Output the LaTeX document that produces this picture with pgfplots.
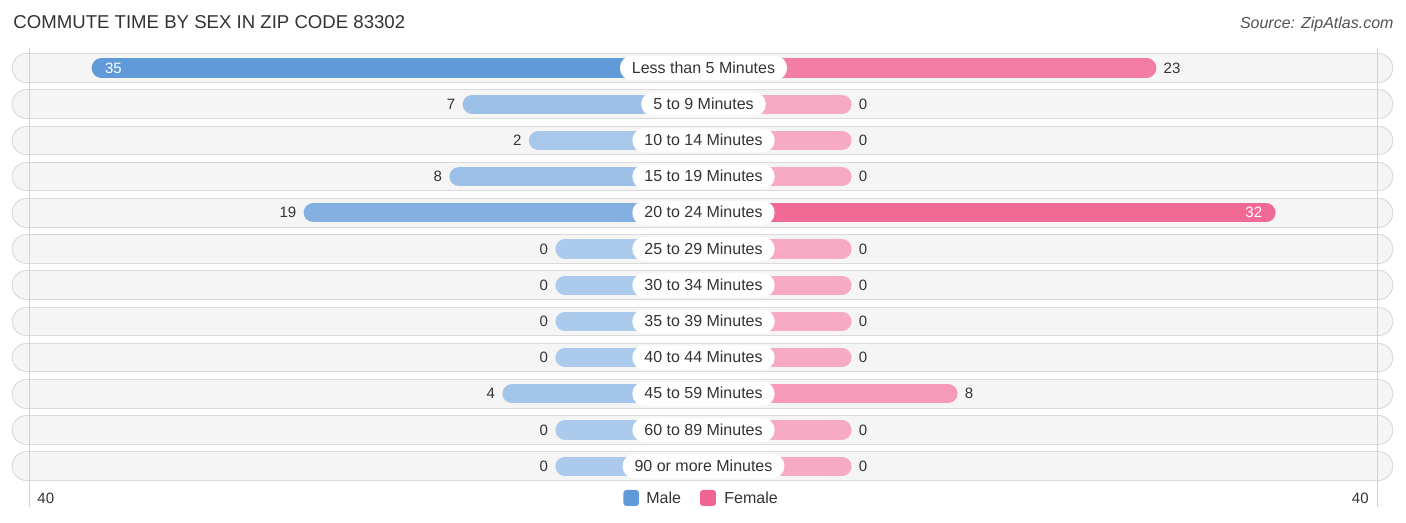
\documentclass[border=0pt]{standalone}
\usepackage{pgfplots}
\usepackage{pgfplotstable}
\pgfplotsset{compat=1.18}
\usepackage{fontspec}
\setmainfont{Liberation Sans}

\definecolor{malefull}{RGB}{96,154,216}
\definecolor{malelight}{RGB}{172,202,236}
\definecolor{femfull}{RGB}{240,100,146}
\definecolor{femlight}{RGB}{247,170,195}
\definecolor{rowfill}{RGB}{245,245,245}
\definecolor{rowedge}{RGB}{218,218,218}
\definecolor{gridc}{RGB}{210,210,210}
\definecolor{txt}{RGB}{51,51,51}

\newcommand\titlefont{\fontsize{9.3bp}{11bp}\selectfont}
\newcommand\lblfont{\fontsize{8bp}{9.6bp}\selectfont}
\newcommand\valfont{\fontsize{7.5bp}{9bp}\selectfont}

\pgfplotstableread[col sep=comma]{
label,male,female
Less than 5 Minutes,35,23
5 to 9 Minutes,7,0
10 to 14 Minutes,2,0
15 to 19 Minutes,8,0
20 to 24 Minutes,19,32
25 to 29 Minutes,0,0
30 to 34 Minutes,0,0
35 to 39 Minutes,0,0
40 to 44 Minutes,0,0
45 to 59 Minutes,4,8
60 to 89 Minutes,0,0
90 or more Minutes,0,0
}\commute

% 13.25 px per unit, every bar starts 148 px out from the centre
\def\off{11.17}
\def\cap{0.717}
\def\gap{0.53}
\def\ins{0.98}

\begin{document}
\begin{tikzpicture}
\begin{axis}[
    scale only axis,
    width=703bp, height=261.5bp,
    xmin=-53.094, xmax=53.019,
    ymin=-1.878, ymax=12.569,
    y dir=reverse,
    hide axis,
    clip=false,
]
\path (axis cs:-53.094,-1.878) rectangle (axis cs:53.019,12.569);

% row backgrounds
\pgfplotsinvokeforeach{0,...,11}{
    \addplot[rowedge, line width=14.8bp, line cap=round] coordinates {(-51.09,#1) (50.94,#1)};
    \addplot[rowfill, line width=13.8bp, line cap=round] coordinates {(-51.09,#1) (50.94,#1)};
}
\draw[gridc, line width=0.5bp] (axis cs:-50.83,-0.55) -- (axis cs:-50.83,12.13);
\draw[gridc, line width=0.5bp] (axis cs:50.83,-0.55) -- (axis cs:50.83,12.13);

% bars and labels
\pgfplotsinvokeforeach{0,...,11}{
    \pgfplotstablegetelem{#1}{male}\of\commute \let\mv\pgfplotsretval
    \pgfplotstablegetelem{#1}{female}\of\commute \let\fv\pgfplotsretval
    \pgfplotstablegetelem{#1}{label}\of\commute \let\lab\pgfplotsretval
    \pgfmathsetmacro\mend{-(\mv+\off)+\cap}
    \pgfmathsetmacro\fend{(\fv+\off)-\cap}
    \pgfmathtruncatemacro\mpct{round(100*\mv/35)}
    \pgfmathtruncatemacro\fpct{round(100*\fv/35)}
    \edef\tmp{%
      \noexpand\addplot[color=malefull!\mpct!malelight, line width=9.6bp, line cap=round] coordinates {(0,#1) (\mend,#1)};
      \noexpand\addplot[color=femfull!\fpct!femlight, line width=9.6bp, line cap=round] coordinates {(0.01,#1) (\fend,#1)};
      \noexpand\node[fill=white, rounded corners=5.9bp, minimum height=12bp, inner xsep=6bp, inner ysep=0pt,
        text height=0.72em, text depth=0.2em, text=txt, font=\noexpand\lblfont] at (axis cs:0,#1) {\lab};
    }\tmp
    \ifnum\mv>29
      \pgfmathsetmacro\mx{-(\mv+\off)+\ins}
      \edef\tmp{\noexpand\node[anchor=west, inner xsep=0pt, text=white, font=\noexpand\valfont] at (axis cs:\mx,#1) {\mv};}\tmp
    \else
      \pgfmathsetmacro\mx{-(\mv+\off)-\gap}
      \edef\tmp{\noexpand\node[anchor=east, inner xsep=0pt, text=txt, font=\noexpand\valfont] at (axis cs:\mx,#1) {\mv};}\tmp
    \fi
    \ifnum\fv>29
      \pgfmathsetmacro\fx{(\fv+\off)-\ins}
      \edef\tmp{\noexpand\node[anchor=east, inner xsep=0pt, text=white, font=\noexpand\valfont] at (axis cs:\fx,#1) {\fv};}\tmp
    \else
      \pgfmathsetmacro\fx{(\fv+\off)+\gap}
      \edef\tmp{\noexpand\node[anchor=west, inner xsep=0pt, text=txt, font=\noexpand\valfont] at (axis cs:\fx,#1) {\fv};}\tmp
    \fi
}

% title, source, scale ends, legend
\node[anchor=west, inner xsep=0pt, text=txt, font=\titlefont] at (axis cs:-52.11,-1.271) {COMMUTE TIME BY SEX IN ZIP CODE 83302};
\node[anchor=east, inner xsep=0pt, text=txt!85, font=\lblfont\itshape] at (axis cs:52.11,-1.215) {Source: ZipAtlas.com};
\node[anchor=west, inner xsep=0pt, text=txt, font=\valfont] at (axis cs:-50.30,11.878) {40};
\node[anchor=east, inner xsep=0pt, text=txt, font=\valfont] at (axis cs:50.23,11.878) {40};
\fill[malefull, rounded corners=1.5bp] (axis cs:-6.04,11.657) rectangle (axis cs:-4.87,12.099);
\node[anchor=west, inner xsep=0pt, text=txt, font=\lblfont] at (axis cs:-4.34,11.878) {Male};
\fill[femfull, rounded corners=1.5bp] (axis cs:-0.264,11.657) rectangle (axis cs:0.943,12.099);
\node[anchor=west, inner xsep=0pt, text=txt, font=\lblfont] at (axis cs:1.547,11.878) {Female};
\end{axis}
\end{tikzpicture}
\end{document}
